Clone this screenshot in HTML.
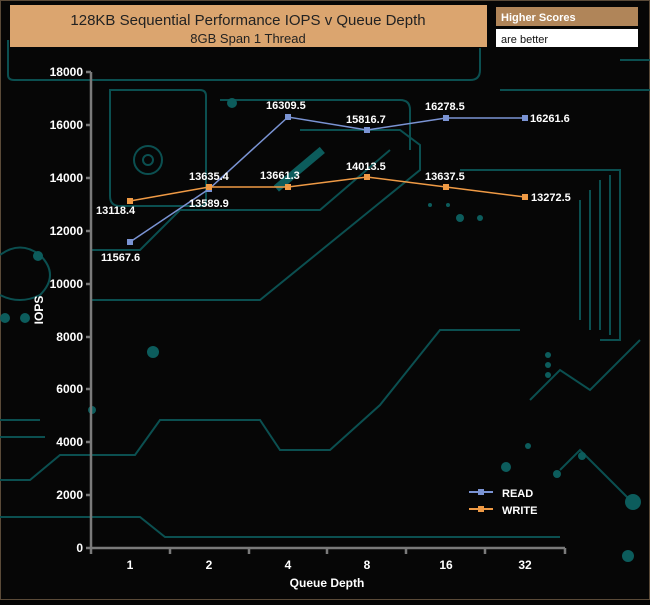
<!DOCTYPE html>
<html><head><meta charset="utf-8"><style>
body{margin:0;width:650px;height:600px;background:#050505;overflow:hidden;font-family:"Liberation Sans",Arial,sans-serif}
</style></head><body>
<svg width="650" height="600" viewBox="0 0 650 600" xmlns="http://www.w3.org/2000/svg" font-family="Liberation Sans, Arial, sans-serif">
<rect x="0" y="0" width="650" height="600" fill="#060606"/>
<rect x="0.5" y="0.5" width="649" height="599" fill="none" stroke="#5a4a38"/>
<g fill="none" stroke="#0b4f50" stroke-width="2">
<path d="M8 40 V75 Q8 80 14 80 H470 Q480 80 480 70 V48"/>
<path d="M110 90 H200 Q206 90 206 96 V200 Q206 206 200 206 H120 Q110 206 110 196 Z"/>
<circle cx="148" cy="160" r="14"/><circle cx="148" cy="160" r="5"/>
<path d="M220 100 H400 Q410 100 410 110 V150"/>
<path d="M300 130 H400 L420 145 V170 L260 300 H90"/>
<path d="M460 170 H620 V340 H600"/>
<path d="M580 200 V320"/><path d="M590 190 V330"/><path d="M600 180 V330"/><path d="M610 175 V335"/>
<path d="M0 255 Q20 240 40 255 Q60 275 40 295 Q20 305 0 295"/>
<path d="M0 480 H30 L60 455 H90 L120 455 L135 455 L160 420 H260 L280 450 H330 L380 405 L440 330 H520"/>
<path d="M0 517 H140 L165 537 H560"/>
<path d="M90 250 L140 250 L180 210 H320 L390 150"/>
<path d="M620 60 L650 60"/><path d="M500 90 H650"/>
<path d="M530 400 L560 370 L590 390 L640 340"/>
<path d="M560 470 L580 450 L600 470 L630 500"/>
<path d="M0 420 H40"/><path d="M0 437 H45"/>
</g>
<g fill="#0c5c5c">
<circle cx="232" cy="103" r="5"/><circle cx="153" cy="352" r="6"/><circle cx="38" cy="256" r="5"/>
<circle cx="506" cy="467" r="5"/><circle cx="528" cy="446" r="3"/><circle cx="557" cy="474" r="4"/><circle cx="582" cy="456" r="4"/>
<circle cx="633" cy="502" r="8"/><circle cx="628" cy="556" r="6"/><circle cx="92" cy="410" r="4"/>
<circle cx="460" cy="218" r="4"/><circle cx="480" cy="218" r="3"/><circle cx="430" cy="205" r="2"/><circle cx="448" cy="205" r="2"/>
<circle cx="548" cy="355" r="3"/><circle cx="548" cy="365" r="3"/><circle cx="548" cy="375" r="3"/>
<rect x="270" y="165" width="60" height="8" transform="rotate(-40 300 170)"/>
<circle cx="5" cy="318" r="5"/><circle cx="25" cy="318" r="5"/>
</g>
<!-- title -->
<rect x="10" y="5" width="477" height="42" fill="#dba56f"/>
<text x="248" y="25" text-anchor="middle" font-size="15" fill="#222">128KB Sequential Performance IOPS v Queue Depth</text>
<text x="248" y="43" text-anchor="middle" font-size="13" fill="#222">8GB Span 1 Thread</text>
<rect x="496" y="7" width="142" height="19" fill="#b08559"/>
<text x="501" y="21" font-size="11" font-weight="bold" fill="#fff">Higher Scores</text>
<rect x="496" y="29" width="142" height="18" fill="#fff"/>
<text x="501" y="43" font-size="11" fill="#111">are better</text>
<!-- axes -->
<g stroke="#7a7a7a" stroke-width="2.5" fill="none">
<path d="M91 72 V548 H565"/>
<path d="M86 72 H91 M86 125 H91 M86 178 H91 M86 231 H91 M86 284 H91 M86 337 H91 M86 389 H91 M86 442 H91 M86 495 H91 M86 548 H91"/>
<path d="M91 548 V554 M170 548 V554 M249 548 V554 M327 548 V554 M406 548 V554 M485 548 V554 M565 548 V554"/>
</g>
<g font-size="12" font-weight="bold" fill="#fff" text-anchor="end">
<text x="83" y="76">18000</text><text x="83" y="129">16000</text><text x="83" y="182">14000</text><text x="83" y="235">12000</text><text x="83" y="288">10000</text><text x="83" y="341">8000</text><text x="83" y="393">6000</text><text x="83" y="446">4000</text><text x="83" y="499">2000</text><text x="83" y="552">0</text>
</g>
<g font-size="12" font-weight="bold" fill="#fff" text-anchor="middle">
<text x="130" y="569">1</text><text x="209" y="569">2</text><text x="288" y="569">4</text><text x="367" y="569">8</text><text x="446" y="569">16</text><text x="525" y="569">32</text>
<text x="327" y="587">Queue Depth</text>
</g>
<text transform="translate(43 310) rotate(-90)" font-size="12" font-weight="bold" fill="#fff" text-anchor="middle">IOPS</text>
<!-- series -->
<polyline points="130,242 209,189 288,117 367,130 446,118 525,118" fill="none" stroke="#7a93d3" stroke-width="1.5"/>
<polyline points="130,201 209,187 288,187 367,177 446,187 525,197" fill="none" stroke="#ef9a45" stroke-width="1.5"/>
<g fill="#7a93d3"><rect x="127" y="239" width="6" height="6"/><rect x="206" y="186" width="6" height="6"/><rect x="285" y="114" width="6" height="6"/><rect x="364" y="127" width="6" height="6"/><rect x="443" y="115" width="6" height="6"/><rect x="522" y="115" width="6" height="6"/></g>
<g fill="#ef9a45"><rect x="127" y="198" width="6" height="6"/><rect x="206" y="184" width="6" height="6"/><rect x="285" y="184" width="6" height="6"/><rect x="364" y="174" width="6" height="6"/><rect x="443" y="184" width="6" height="6"/><rect x="522" y="194" width="6" height="6"/></g>
<g font-size="11" font-weight="bold" fill="#fff">
<text x="101" y="261">11567.6</text><text x="189" y="207">13589.9</text><text x="266" y="109">16309.5</text><text x="346" y="123">15816.7</text><text x="425" y="110">16278.5</text><text x="530" y="122">16261.6</text>
<text x="96" y="214">13118.4</text><text x="189" y="180">13635.4</text><text x="260" y="179">13661.3</text><text x="346" y="170">14013.5</text><text x="425" y="180">13637.5</text><text x="531" y="201">13272.5</text>
</g>
<!-- legend -->
<line x1="469" y1="492" x2="493" y2="492" stroke="#7a93d3" stroke-width="2"/><rect x="478" y="489" width="6" height="6" fill="#7a93d3"/>
<line x1="469" y1="509" x2="493" y2="509" stroke="#ef9a45" stroke-width="2"/><rect x="478" y="506" width="6" height="6" fill="#ef9a45"/>
<text x="502" y="497" font-size="11" font-weight="bold" fill="#fff">READ</text>
<text x="502" y="514" font-size="11" font-weight="bold" fill="#fff">WRITE</text>
</svg>
</body></html>
